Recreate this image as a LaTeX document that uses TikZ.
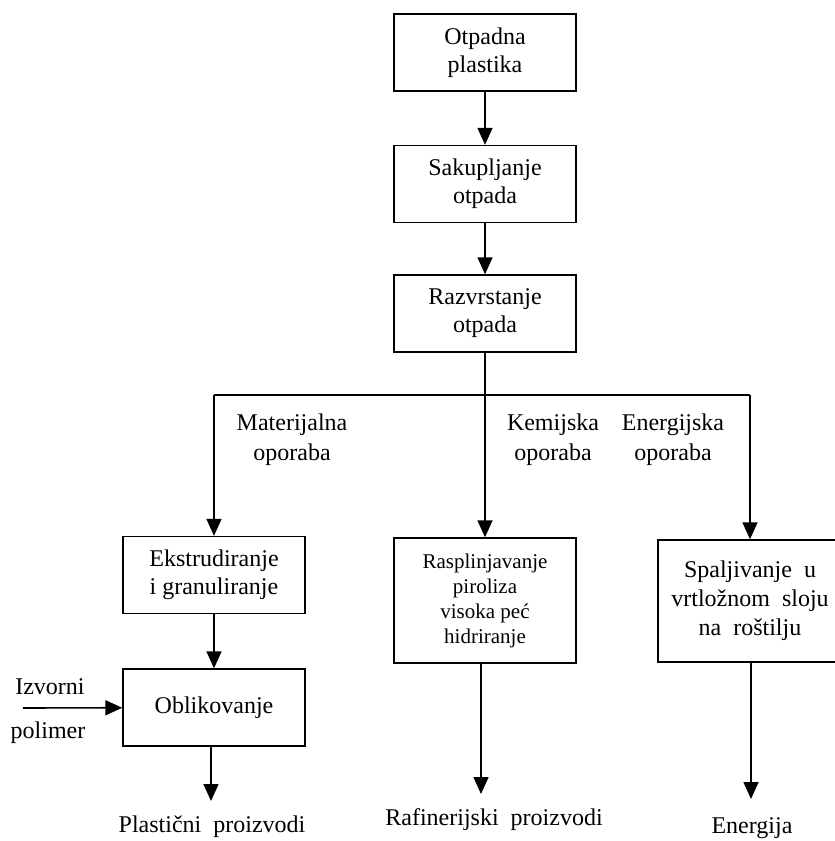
\documentclass[tikz,border=0pt]{standalone}
\usepackage{fontspec}
\setmainfont{Liberation Serif}
\usetikzlibrary{arrows.meta}

\tikzset{
  korak/.style={draw, line width=1.4pt, align=center, inner sep=2pt,
    minimum width=182pt, minimum height=77pt, font=\fontsize{24}{28}\selectfont},
  natpis/.style={align=center, inner sep=1pt, font=\fontsize{24}{30}\selectfont},
  tok/.style={-{Triangle[width=15pt,length=17pt]}, line width=1.6pt},
  spoj/.style={line width=1.6pt}
}

\begin{document}
\begin{tikzpicture}[x=1pt,y=-1pt]
\useasboundingbox (0,0) rectangle (835,841);
\node[korak] (otpad) at (485,52.5) {Otpadna\\plastika};
\node[korak] (sakup) at (485,184) {Sakupljanje\\otpada};
\node[korak] (razvr) at (485,313.5) {Razvrstanje\\otpada};
\node[korak] (ekstr) at (214,575) {Ekstrudiranje\\i granuliranje};
\node[korak] (oblik) at (214,707.5) {Oblikovanje};
\node[korak, minimum height=125pt, font=\fontsize{21}{25}\selectfont] (raspl) at (485,600.5)
  {Rasplinjavanje\\piroliza\\visoka peć\\hidriranje};
\node[korak, minimum width=184pt, minimum height=122pt, font=\fontsize{24}{29}\selectfont] (spalj) at (750,601)
  {Spaljivanje\ \ u\\vrtložnom\ \ sloju\\na\ \ roštilju};
% grananje
\coordinate (grana) at (485,395);
\coordinate (lijevo) at (214,395);
\coordinate (desno) at (750,395);
\node[natpis] (mater) at (292,440) {Materijalna\\oporaba};
\node[natpis] (kemij) at (553,440) {Kemijska\\oporaba};
\node[natpis] (energ) at (673,440) {Energijska\\oporaba};
% ulaz i izlazi
\node[natpis] (izvor) at (50,687) {Izvorni};
\node[natpis] (polim) at (48,733) {polimer};
\coordinate (ulaz) at (23,708);
\coordinate (kraj1) at (211,801);
\coordinate (kraj2) at (481,794);
\coordinate (kraj3) at (751,799);
\node[natpis] (plast) at (212,827) {Plastični\ \ proizvodi};
\node[natpis] (rafin) at (494,820) {Rafinerijski\ \ proizvodi};
\node[natpis] (energija) at (752,828) {Energija};
\draw[tok] (otpad) -- (sakup);
\draw[tok] (sakup) -- (razvr);
\draw[spoj] (razvr) -- (grana);
\draw[spoj] (lijevo) -- (desno);
\draw[tok] (lijevo) -- (ekstr);
\draw[tok] (grana) -- (raspl);
\draw[tok] (desno) -- (spalj);
\draw[tok] (ekstr) -- (oblik);
\draw[tok] (ulaz) -- (oblik);
\draw[tok] (oblik.south -| kraj1) -- (kraj1);
\draw[tok] (raspl.south -| kraj2) -- (kraj2);
\draw[tok] (spalj.south -| kraj3) -- (kraj3);
\end{tikzpicture}
\end{document}
